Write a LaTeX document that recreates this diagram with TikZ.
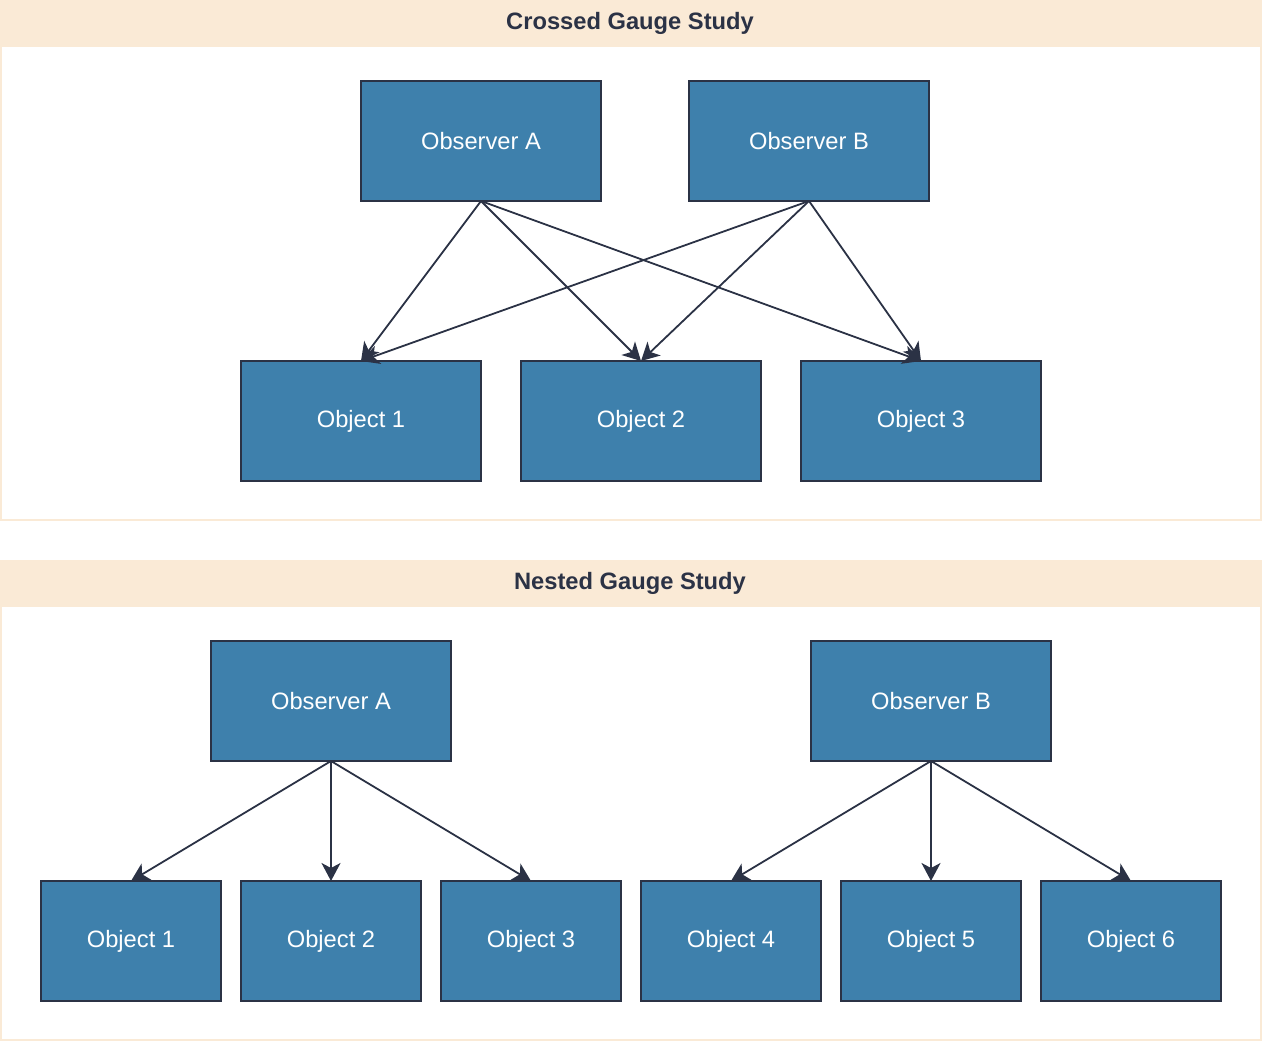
\documentclass[tikz,border=0pt]{standalone}
\usepackage{fontspec}
\setmainfont{Liberation Sans}
\usetikzlibrary{arrows.meta}
\definecolor{boxfill}{HTML}{3E80AC}
\definecolor{ink}{HTML}{2B3245}
\definecolor{band}{HTML}{FAEAD6}
\tikzset{
  box/.style={draw=ink, line width=2pt, fill=boxfill, text=white, minimum width=240pt, minimum height=120pt, inner sep=0pt, outer sep=0pt, font=\fontsize{23.7}{28}\selectfont},
  smallbox/.style={box, minimum width=180pt},
  link/.style={draw=ink, line width=1.8pt, arrows={-Stealth[length=18pt,width=19pt,inset=5pt]}},
  title/.style={text=ink, font=\bfseries\fontsize{23.7}{28}\selectfont},
}
\begin{document}
\begin{tikzpicture}[x=1pt,y=-1pt]
\useasboundingbox (0,0) rectangle (1264,1042);
% containers
\draw[band, line width=2pt] (1,1) rectangle (1261,520);
\fill[band] (0,0) rectangle (1262,47);
\node[title] (t1) at (630,23) {Crossed Gauge Study};
\draw[band, line width=2pt] (1,561) rectangle (1261,1040);
\fill[band] (0,560) rectangle (1262,607);
\node[title] (t2) at (630,583) {Nested Gauge Study};
% crossed
\node[box] (ca) at (481,141) {Observer A};
\node[box] (cb) at (809,141) {Observer B};
\node[box] (c1) at (361,421) {Object 1};
\node[box] (c2) at (641,421) {Object 2};
\node[box] (c3) at (921,421) {Object 3};
\foreach \s in {ca,cb}{
  \foreach \t in {c1,c2,c3}{
    \draw[link] (\s.south) -- (\t.north);
  }
}
% nested
\node[box] (na) at (331,701) {Observer A};
\node[box] (nb) at (931,701) {Observer B};
\node[smallbox] (n1) at (131,941) {Object 1};
\node[smallbox] (n2) at (331,941) {Object 2};
\node[smallbox] (n3) at (531,941) {Object 3};
\node[smallbox] (n4) at (731,941) {Object 4};
\node[smallbox] (n5) at (931,941) {Object 5};
\node[smallbox] (n6) at (1131,941) {Object 6};
\foreach \t in {n1,n2,n3}{\draw[link] (na.south) -- (\t.north);}
\foreach \t in {n4,n5,n6}{\draw[link] (nb.south) -- (\t.north);}
\end{tikzpicture}
\end{document}
